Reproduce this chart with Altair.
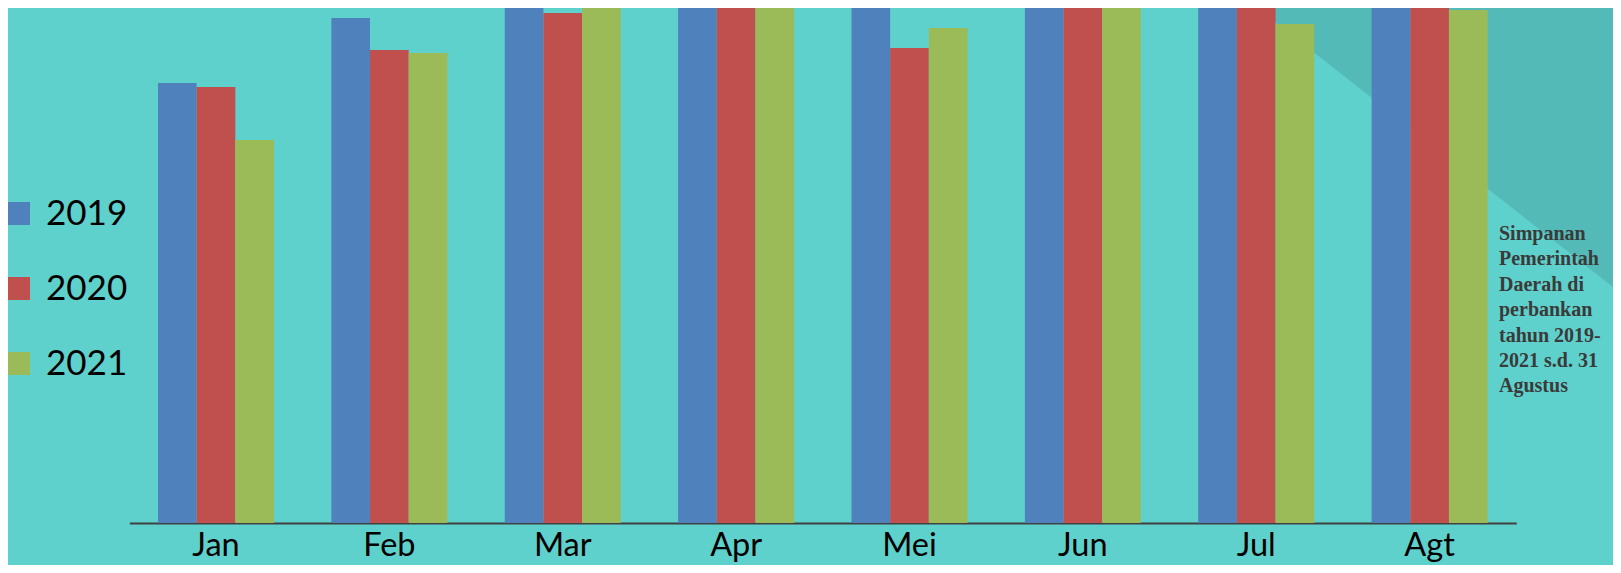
import altair as alt
import pandas as pd

# ---- data (arbitrary units; bars above 200 are cut by the top edge) ----
months = ["Jan", "Feb", "Mar", "Apr", "Mei", "Jun", "Jul", "Agt"]
years = ["2019", "2020", "2021"]
v2019 = [170.9, 196.1, 215.0, 225.0, 218.0, 230.0, 225.0, 228.0]
v2020 = [169.3, 183.7, 198.1, 220.0, 184.5, 222.0, 215.0, 220.0]
v2021 = [148.7, 182.5, 202.7, 212.0, 192.2, 210.0, 193.8, 199.2]
colors = ["#4F81BD", "#C0504D", "#9BBB59"]
note_lines = ["Simpanan", "Pemerintah", "Daerah di", "perbankan",
              "tahun 2019-", "2021 s.d. 31", "Agustus"]

rows = []
for y, vals in zip(years, [v2019, v2020, v2021]):
    for m, v in zip(months, vals):
        rows.append({"month": m, "year": y, "value": v})
df = pd.DataFrame(rows)

BG = "#5FD1CC"
BG_DARK = "#53BAB8"

# decorative darker triangle in the upper right (pixel space of the plot)
deco = pd.DataFrame({"px": [1127.9, 1483.7], "py": [0.0, 279.0]})
tri = alt.Chart(deco).mark_area(color=BG_DARK, clip=False).encode(
    x=alt.X("px:Q", scale=None, axis=None),
    y=alt.Y("py:Q", scale=None, axis=None),
    y2=alt.value(0),
)

bars = alt.Chart(df).mark_bar(clip=True).encode(
    x=alt.X(
        "month:N",
        sort=months,
        scale=alt.Scale(paddingInner=0.331, paddingOuter=0.1655),
        axis=alt.Axis(
            title=None, labelAngle=0, ticks=False, tickSize=0,
            labelFont="Lato", labelFontSize=32.5, labelColor="black",
            labelBaseline="alphabetic", labelPadding=32,
            domainColor="#404040", domainWidth=2, grid=False,
        ),
    ),
    xOffset=alt.XOffset("year:N", sort=years,
                        scale=alt.Scale(paddingInner=0, paddingOuter=0)),
    y=alt.Y("value:Q", scale=alt.Scale(domain=[0, 200], nice=False, zero=True),
            axis=None),
    color=alt.Color(
        "year:N",
        sort=years,
        scale=alt.Scale(domain=years, range=colors),
        legend=alt.Legend(
            orient="none", legendX=-128.3, legendY=188, title=None,
            symbolType="square", symbolSize=529, symbolStrokeWidth=0,
            symbolOpacity=1, labelFont="Lato", labelFontSize=35,
            labelColor="black", labelOffset=10, rowPadding=39, padding=0,
        ),
    ),
)

note = alt.Chart(pd.DataFrame({"a": [0]})).mark_text(
    text=note_lines, align="left", baseline="alphabetic",
    font="Liberation Serif", fontWeight="bold", fontSize=20,
    lineHeight=25.4, color="#3A3A3A",
).encode(x=alt.value(1369.7), y=alt.value(232))

chart = alt.layer(tri, bars, note).resolve_scale(
    x="independent", y="independent"
).properties(
    width=1387, height=515, background=BG,
    autosize=alt.AutoSizeParams(type="none"),
    padding={"left": 121.3, "top": 0, "right": 96.7, "bottom": 42},
).configure_view(strokeWidth=0)

chart.save("out.html", embed_options={"renderer": "svg", "actions": False})
